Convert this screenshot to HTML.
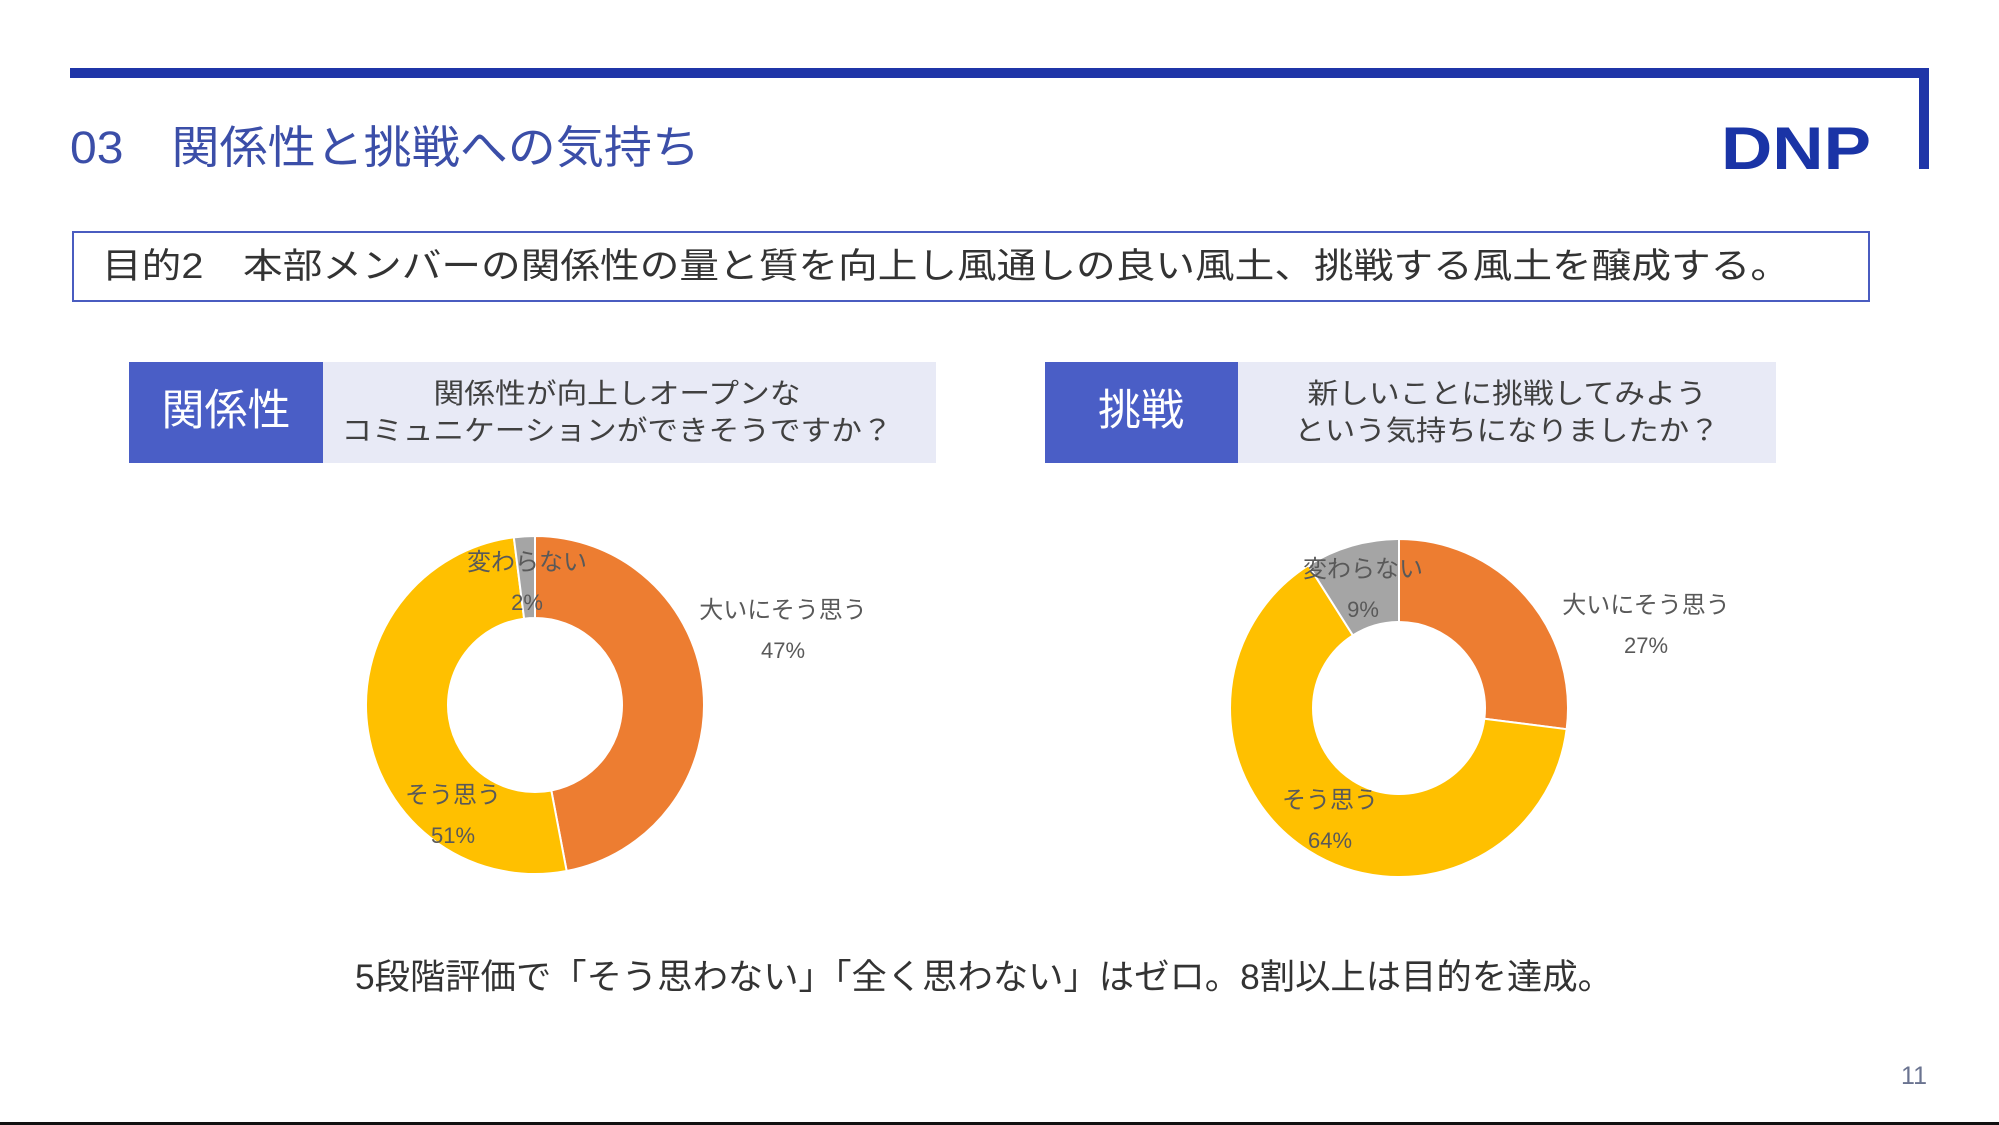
<!DOCTYPE html>
<html><head><meta charset="utf-8"><style>
html,body{margin:0;padding:0;background:#fff;}
svg{display:block;}
text{font-family:"Liberation Sans","Noto Sans CJK JP",sans-serif;}
</style></head><body>
<svg id="slide" width="1999" height="1125" viewBox="0 0 1999 1125">
<rect x="70" y="68" width="1859" height="10" fill="#1f35a8"/>
<rect x="1919" y="68" width="10" height="101" fill="#1f35a8"/>
<text x="70" y="163" font-size="45" fill="#3b4ea8" textLength="630" lengthAdjust="spacingAndGlyphs">03　関係性と挑戦への気持ち</text>
<text x="1721" y="169" font-size="60" font-weight="bold" fill="#1a34a6" textLength="150" lengthAdjust="spacingAndGlyphs">DNP</text>
<rect x="73" y="232" width="1796" height="69" fill="#fff" stroke="#4a5cc0" stroke-width="2"/>
<text x="102" y="278" font-size="35" fill="#333" textLength="1688" lengthAdjust="spacingAndGlyphs">目的2　本部メンバーの関係性の量と質を向上し風通しの良い風土、挑戦する風土を醸成する。</text>

<rect x="129" y="362" width="194" height="101" fill="#4a5ec6"/>
<rect x="323" y="362" width="613" height="101" fill="#e8eaf6"/>
<text x="226" y="425" font-size="43" fill="#fff" text-anchor="middle">関係性</text>
<text x="617" y="403" font-size="28" fill="#404040" text-anchor="middle" textLength="367" lengthAdjust="spacingAndGlyphs">関係性が向上しオープンな</text>
<text x="617" y="440" font-size="28" fill="#404040" text-anchor="middle" textLength="551" lengthAdjust="spacingAndGlyphs">コミュニケーションができそうですか？</text>

<rect x="1045" y="362" width="193" height="101" fill="#4a5ec6"/>
<rect x="1238" y="362" width="538" height="101" fill="#e8eaf6"/>
<text x="1141" y="425" font-size="43" fill="#fff" text-anchor="middle">挑戦</text>
<text x="1507" y="403" font-size="28" fill="#404040" text-anchor="middle" textLength="399" lengthAdjust="spacingAndGlyphs">新しいことに挑戦してみよう</text>
<text x="1507" y="440" font-size="28" fill="#404040" text-anchor="middle" textLength="425" lengthAdjust="spacingAndGlyphs">という気持ちになりましたか？</text>

<g id="donut1"></g>
<g id="donut2"></g>

<text x="984" y="989" font-size="35" fill="#333" text-anchor="middle" textLength="1258" lengthAdjust="spacingAndGlyphs">5段階評価で「そう思わない」「全く思わない」はゼロ。8割以上は目的を達成。</text>
<text x="1914" y="1084" font-size="25" fill="#6a7390" text-anchor="middle" font-family="Liberation Serif, serif">11</text>
<rect x="0" y="1122" width="1999" height="3" fill="#111"/>
</svg>
<script>
const categories = ["大いにそう思う", "そう思う", "変わらない"];
const relationValues = [47, 51, 2];
const challengeValues = [27, 64, 9];
const colors = ["#ed7d31", "#ffc000", "#a5a5a5"];
const NS = "http://www.w3.org/2000/svg";

function drawDonut(gid, values, cx, cy, R, r, labelPos) {
  const g = document.getElementById(gid);
  const total = values.reduce((a, b) => a + b, 0);
  let acc = 0;
  values.forEach((v, i) => {
    const a0 = acc / total * 2 * Math.PI;
    acc += v;
    const a1 = acc / total * 2 * Math.PI;
    const large = (a1 - a0) > Math.PI ? 1 : 0;
    const p = (rad, ang) => [cx + rad * Math.sin(ang), cy - rad * Math.cos(ang)];
    const [x0, y0] = p(R, a0), [x1, y1] = p(R, a1), [x2, y2] = p(r, a1), [x3, y3] = p(r, a0);
    const path = document.createElementNS(NS, "path");
    path.setAttribute("d", `M${x0},${y0} A${R},${R} 0 ${large} 1 ${x1},${y1} L${x2},${y2} A${r},${r} 0 ${large} 0 ${x3},${y3} Z`);
    path.setAttribute("fill", colors[i]);
    path.setAttribute("stroke", "#fff");
    path.setAttribute("stroke-width", "2");
    
    
    g.appendChild(path);
  });
  values.forEach((v, i) => {
    const [lx, ly] = labelPos[i];
    const t1 = document.createElementNS(NS, "text");
    t1.setAttribute("x", lx); t1.setAttribute("y", ly);
    t1.setAttribute("font-size", "24"); t1.setAttribute("fill", "#595959");
    t1.setAttribute("text-anchor", "middle");
    t1.textContent = categories[i];
    
    
    g.appendChild(t1);
    const t2 = document.createElementNS(NS, "text");
    t2.setAttribute("x", lx); t2.setAttribute("y", ly + 40);
    t2.setAttribute("font-size", "22"); t2.setAttribute("fill", "#595959");
    t2.setAttribute("text-anchor", "middle");
    t2.textContent = v + "%";
    
    
    g.appendChild(t2);
  });
}
drawDonut("donut1", relationValues, 535, 705, 169, 87, [[783, 618], [453, 803], [527, 570]]);
drawDonut("donut2", challengeValues, 1399, 708, 169, 86, [[1646, 613], [1330, 808], [1363, 577]]);
</script>
</body></html>
